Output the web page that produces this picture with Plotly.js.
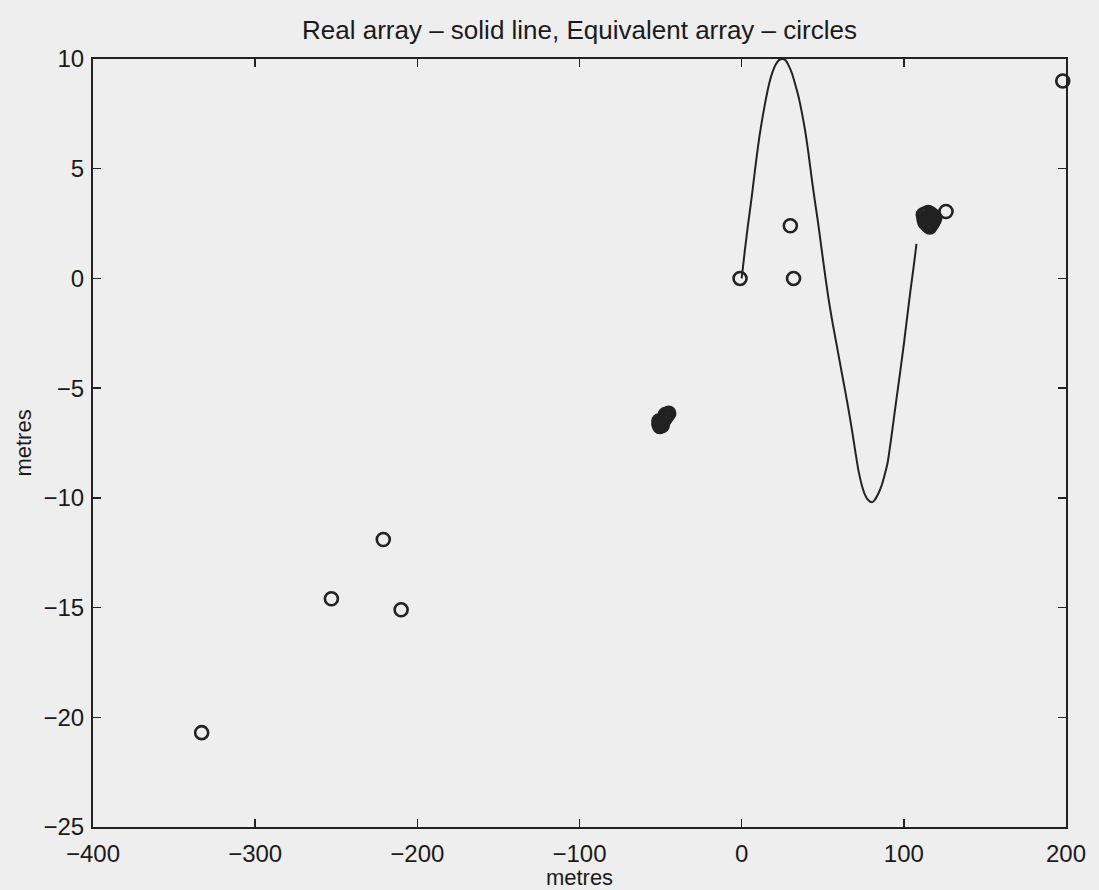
<!DOCTYPE html>
<html>
<head>
<meta charset="utf-8">
<script src="https://cdn.plot.ly/plotly-3.0.1.min.js"></script>
<style>html,body{margin:0;padding:0;background:#eeeeee;}</style>
</head>
<body>
<div id="chart" style="width:1099px;height:890px;"></div>
<script>
// Real array (solid line)
const realX = [0, 2, 4, 6, 7.5, 9, 11, 13, 15, 17, 19, 21, 23, 25, 27, 29, 31, 33, 35, 37, 39, 41, 43.3, 45, 47, 49, 51, 53.5, 56, 59, 62, 65, 68, 70, 72, 74, 76, 78, 80.3, 82, 84, 86, 88, 90, 92, 94, 96, 97.5, 100, 102, 104, 106, 107.8];
const realY = [0, 1.3, 2.5, 3.6, 4.5, 5.4, 6.5, 7.4, 8.2, 8.9, 9.4, 9.75, 9.95, 10, 9.95, 9.7, 9.35, 8.85, 8.3, 7.6, 6.8, 5.8, 4.5, 3.6, 2.6, 1.5, 0.4, -0.9, -2.0, -3.2, -4.4, -5.6, -6.9, -7.85, -8.75, -9.4, -9.85, -10.1, -10.2, -10.1, -9.85, -9.5, -9.0, -8.4, -7.4, -6.3, -5.2, -4.4, -3.0, -1.8, -0.6, 0.5, 1.57];

// Equivalent array (circles): isolated elements
const equivX = [-333, -253, -221, -210, -1, 30, 32, 198, 126];
const equivY = [-20.7, -14.6, -11.9, -15.1, 0, 2.4, 0, 9.0, 3.05];

// Equivalent array: dense group near (-48, -6.4)
const groupAX = [-51, -50, -49, -48, -47, -46, -45, -50.5, -49.5, -48.5, -47.5, -46.5, -51, -49, -47];
const groupAY = [-6.65, -6.55, -6.45, -6.38, -6.3, -6.22, -6.15, -6.75, -6.62, -6.5, -6.42, -6.3, -6.5, -6.7, -6.2];

// Equivalent array: dense group near (115, 2.7)
const groupBX = [112, 113.5, 115, 116.5, 118, 119, 112.5, 114, 115.5, 117, 118.5, 113, 114.5, 116, 117.5, 115, 116];
const groupBY = [2.9, 2.95, 3.0, 2.95, 2.85, 2.75, 2.7, 2.75, 2.8, 2.7, 2.65, 2.55, 2.5, 2.55, 2.5, 2.4, 2.35];

const xTicks = [-400, -300, -200, -100, 0, 100, 200];
const yTicks = [-25, -20, -15, -10, -5, 0, 5, 10];

const ink = '#222222';
const circleMarker = {symbol: 'circle-open', size: 13, color: ink, line: {width: 2.6, color: ink}};

const traces = [
  {x: realX, y: realY, type: 'scatter', mode: 'lines', line: {color: ink, width: 2, shape: 'spline', smoothing: 0.6}, showlegend: false, hoverinfo: 'skip'},
  {x: equivX, y: equivY, type: 'scatter', mode: 'markers', marker: circleMarker, showlegend: false, cliponaxis: false},
  {x: groupAX, y: groupAY, type: 'scatter', mode: 'markers', marker: circleMarker, showlegend: false},
  {x: groupBX, y: groupBY, type: 'scatter', mode: 'markers', marker: circleMarker, showlegend: false}
];

const fontFam = '"Liberation Sans", Arial, Helvetica, sans-serif';
const axisCommon = {
  showgrid: false, zeroline: false,
  showline: true, linecolor: ink, linewidth: 2, mirror: 'ticks',
  ticks: 'inside', ticklen: 8, tickwidth: 1.5, tickcolor: ink,
  tickfont: {family: fontFam, size: 24, color: '#1a1a1a'}
};

const layout = {
  width: 1099, height: 890,
  paper_bgcolor: '#eeeeee', plot_bgcolor: '#eeeeee',
  margin: {l: 93, r: 33, t: 59, b: 63},
  font: {family: fontFam, color: '#1a1a1a'},
  title: {text: 'Real array – solid line, Equivalent array – circles', font: {family: fontFam, size: 26, color: '#1a1a1a'}, x: 0.5, xref: 'paper', y: 0.966, yref: 'container', yanchor: 'middle'},
  xaxis: Object.assign({}, axisCommon, {
    range: [-400, 200], tickvals: xTicks, ticktext: xTicks.map(v => v < 0 ? '−' + Math.abs(v) : String(v)),
    ticklabelstandoff: 4,
    title: {text: 'metres', font: {family: fontFam, size: 22, color: '#1a1a1a'}, standoff: 0}
  }),
  yaxis: Object.assign({}, axisCommon, {
    range: [-25, 10], tickvals: yTicks, ticktext: yTicks.map(v => v < 0 ? '−' + Math.abs(v) : String(v)),
    ticklabelstandoff: 2,
    title: {text: 'metres', font: {family: fontFam, size: 22, color: '#1a1a1a'}, standoff: 6}
  })
};

Plotly.newPlot('chart', traces, layout, {displayModeBar: false, staticPlot: true});
</script>
</body>
</html>
